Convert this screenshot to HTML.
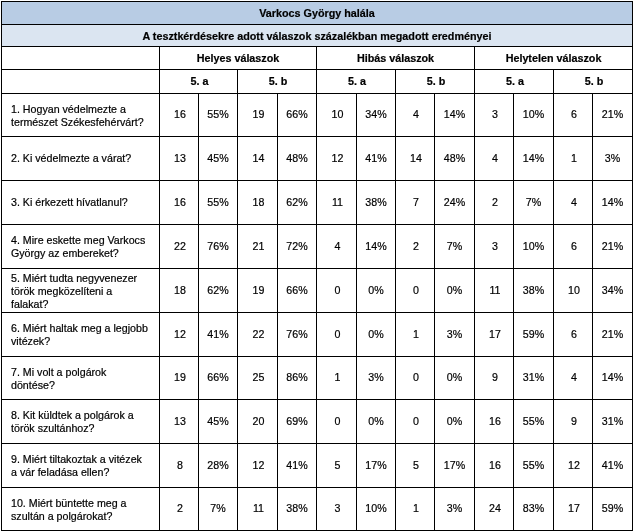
<!DOCTYPE html>
<html lang="hu"><head><meta charset="utf-8"><title>Varkocs György halála</title>
<style>
html,body{margin:0;padding:0;background:#fff;}
body{width:634px;height:532px;position:relative;overflow:hidden;font-family:"Liberation Sans",sans-serif;color:#000;}
.h,.v,.bg,.t{position:absolute;}
.h{height:1px;background:#000;}
.v{width:1px;background:#000;}
.t{font-size:10.67px;line-height:13px;white-space:nowrap;will-change:transform;-webkit-text-stroke:0.2px #000;}
.c{text-align:center;}
.b{font-weight:bold;font-size:10.78px;}
</style></head><body>
<div class="bg" style="left:1px;top:1px;width:632px;height:23px;background:#b8cce4"></div>
<div class="bg" style="left:1px;top:24px;width:632px;height:22px;background:#dbe5f1"></div>
<div class="h" style="left:1px;top:1px;width:632px"></div>
<div class="h" style="left:1px;top:24px;width:632px"></div>
<div class="h" style="left:1px;top:46px;width:632px"></div>
<div class="h" style="left:1px;top:69px;width:632px"></div>
<div class="h" style="left:1px;top:93px;width:632px"></div>
<div class="h" style="left:1px;top:136px;width:632px"></div>
<div class="h" style="left:1px;top:180px;width:632px"></div>
<div class="h" style="left:1px;top:224px;width:632px"></div>
<div class="h" style="left:1px;top:268px;width:632px"></div>
<div class="h" style="left:1px;top:312px;width:632px"></div>
<div class="h" style="left:1px;top:356px;width:632px"></div>
<div class="h" style="left:1px;top:399px;width:632px"></div>
<div class="h" style="left:1px;top:443px;width:632px"></div>
<div class="h" style="left:1px;top:487px;width:632px"></div>
<div class="h" style="left:1px;top:530px;width:632px"></div>
<div class="v" style="left:1px;top:1px;height:530px"></div>
<div class="v" style="left:159px;top:46px;height:485px"></div>
<div class="v" style="left:198px;top:93px;height:438px"></div>
<div class="v" style="left:237px;top:69px;height:462px"></div>
<div class="v" style="left:277px;top:93px;height:438px"></div>
<div class="v" style="left:316px;top:46px;height:485px"></div>
<div class="v" style="left:356px;top:93px;height:438px"></div>
<div class="v" style="left:395px;top:69px;height:462px"></div>
<div class="v" style="left:434px;top:93px;height:438px"></div>
<div class="v" style="left:474px;top:46px;height:485px"></div>
<div class="v" style="left:513px;top:93px;height:438px"></div>
<div class="v" style="left:553px;top:69px;height:462px"></div>
<div class="v" style="left:592px;top:93px;height:438px"></div>
<div class="v" style="left:632px;top:1px;height:530px"></div>
<div class="t c b" style="left:2px;top:6.5px;width:630px">Varkocs György halála</div>
<div class="t c b" style="left:2px;top:29.7px;width:630px">A tesztkérdésekre adott válaszok százalékban megadott eredményei</div>
<div class="t c b" style="left:160.4px;top:51.5px;width:156px">Helyes válaszok</div>
<div class="t c b" style="left:160.7px;top:75.0px;width:77px">5. a</div>
<div class="t c b" style="left:238.7px;top:75.0px;width:78px">5. b</div>
<div class="t c b" style="left:317.4px;top:51.5px;width:157px">Hibás válaszok</div>
<div class="t c b" style="left:317.7px;top:75.0px;width:78px">5. a</div>
<div class="t c b" style="left:396.7px;top:75.0px;width:78px">5. b</div>
<div class="t c b" style="left:475.4px;top:51.5px;width:157px">Helytelen válaszok</div>
<div class="t c b" style="left:475.7px;top:75.0px;width:78px">5. a</div>
<div class="t c b" style="left:554.7px;top:75.0px;width:78px">5. b</div>
<div class="t" style="left:11.0px;top:102.6px">1. Hogyan védelmezte a<br>természet Székesfehérvárt?</div>
<div class="t c" style="left:160.6px;top:108.3px;width:38px">16</div>
<div class="t c" style="left:199.1px;top:108.3px;width:38px">55%</div>
<div class="t c" style="left:238.6px;top:108.3px;width:39px">19</div>
<div class="t c" style="left:278.1px;top:108.3px;width:38px">66%</div>
<div class="t c" style="left:317.6px;top:108.3px;width:39px">10</div>
<div class="t c" style="left:357.1px;top:108.3px;width:38px">34%</div>
<div class="t c" style="left:396.6px;top:108.3px;width:38px">4</div>
<div class="t c" style="left:435.1px;top:108.3px;width:39px">14%</div>
<div class="t c" style="left:475.6px;top:108.3px;width:38px">3</div>
<div class="t c" style="left:514.1px;top:108.3px;width:39px">10%</div>
<div class="t c" style="left:554.6px;top:108.3px;width:38px">6</div>
<div class="t c" style="left:593.1px;top:108.3px;width:39px">21%</div>
<div class="t" style="left:11.0px;top:151.9px">2. Ki védelmezte a várat?</div>
<div class="t c" style="left:160.6px;top:151.8px;width:38px">13</div>
<div class="t c" style="left:199.1px;top:151.8px;width:38px">45%</div>
<div class="t c" style="left:238.6px;top:151.8px;width:39px">14</div>
<div class="t c" style="left:278.1px;top:151.8px;width:38px">48%</div>
<div class="t c" style="left:317.6px;top:151.8px;width:39px">12</div>
<div class="t c" style="left:357.1px;top:151.8px;width:38px">41%</div>
<div class="t c" style="left:396.6px;top:151.8px;width:38px">14</div>
<div class="t c" style="left:435.1px;top:151.8px;width:39px">48%</div>
<div class="t c" style="left:475.6px;top:151.8px;width:38px">4</div>
<div class="t c" style="left:514.1px;top:151.8px;width:39px">14%</div>
<div class="t c" style="left:554.6px;top:151.8px;width:38px">1</div>
<div class="t c" style="left:593.1px;top:151.8px;width:39px">3%</div>
<div class="t" style="left:11.0px;top:195.9px">3. Ki érkezett hívatlanul?</div>
<div class="t c" style="left:160.6px;top:195.8px;width:38px">16</div>
<div class="t c" style="left:199.1px;top:195.8px;width:38px">55%</div>
<div class="t c" style="left:238.6px;top:195.8px;width:39px">18</div>
<div class="t c" style="left:278.1px;top:195.8px;width:38px">62%</div>
<div class="t c" style="left:317.6px;top:195.8px;width:39px">11</div>
<div class="t c" style="left:357.1px;top:195.8px;width:38px">38%</div>
<div class="t c" style="left:396.6px;top:195.8px;width:38px">7</div>
<div class="t c" style="left:435.1px;top:195.8px;width:39px">24%</div>
<div class="t c" style="left:475.6px;top:195.8px;width:38px">2</div>
<div class="t c" style="left:514.1px;top:195.8px;width:39px">7%</div>
<div class="t c" style="left:554.6px;top:195.8px;width:38px">4</div>
<div class="t c" style="left:593.1px;top:195.8px;width:39px">14%</div>
<div class="t" style="left:11.0px;top:234.1px">4. Mire eskette meg Varkocs<br>György az embereket?</div>
<div class="t c" style="left:160.6px;top:239.8px;width:38px">22</div>
<div class="t c" style="left:199.1px;top:239.8px;width:38px">76%</div>
<div class="t c" style="left:238.6px;top:239.8px;width:39px">21</div>
<div class="t c" style="left:278.1px;top:239.8px;width:38px">72%</div>
<div class="t c" style="left:317.6px;top:239.8px;width:39px">4</div>
<div class="t c" style="left:357.1px;top:239.8px;width:38px">14%</div>
<div class="t c" style="left:396.6px;top:239.8px;width:38px">2</div>
<div class="t c" style="left:435.1px;top:239.8px;width:39px">7%</div>
<div class="t c" style="left:475.6px;top:239.8px;width:38px">3</div>
<div class="t c" style="left:514.1px;top:239.8px;width:39px">10%</div>
<div class="t c" style="left:554.6px;top:239.8px;width:38px">6</div>
<div class="t c" style="left:593.1px;top:239.8px;width:39px">21%</div>
<div class="t" style="left:11.0px;top:271.6px">5. Miért tudta negyvenezer<br>török megközelíteni a<br>falakat?</div>
<div class="t c" style="left:160.6px;top:283.8px;width:38px">18</div>
<div class="t c" style="left:199.1px;top:283.8px;width:38px">62%</div>
<div class="t c" style="left:238.6px;top:283.8px;width:39px">19</div>
<div class="t c" style="left:278.1px;top:283.8px;width:38px">66%</div>
<div class="t c" style="left:317.6px;top:283.8px;width:39px">0</div>
<div class="t c" style="left:357.1px;top:283.8px;width:38px">0%</div>
<div class="t c" style="left:396.6px;top:283.8px;width:38px">0</div>
<div class="t c" style="left:435.1px;top:283.8px;width:39px">0%</div>
<div class="t c" style="left:475.6px;top:283.8px;width:38px">11</div>
<div class="t c" style="left:514.1px;top:283.8px;width:39px">38%</div>
<div class="t c" style="left:554.6px;top:283.8px;width:38px">10</div>
<div class="t c" style="left:593.1px;top:283.8px;width:39px">34%</div>
<div class="t" style="left:11.0px;top:322.1px">6. Miért haltak meg a legjobb<br>vitézek?</div>
<div class="t c" style="left:160.6px;top:327.8px;width:38px">12</div>
<div class="t c" style="left:199.1px;top:327.8px;width:38px">41%</div>
<div class="t c" style="left:238.6px;top:327.8px;width:39px">22</div>
<div class="t c" style="left:278.1px;top:327.8px;width:38px">76%</div>
<div class="t c" style="left:317.6px;top:327.8px;width:39px">0</div>
<div class="t c" style="left:357.1px;top:327.8px;width:38px">0%</div>
<div class="t c" style="left:396.6px;top:327.8px;width:38px">1</div>
<div class="t c" style="left:435.1px;top:327.8px;width:39px">3%</div>
<div class="t c" style="left:475.6px;top:327.8px;width:38px">17</div>
<div class="t c" style="left:514.1px;top:327.8px;width:39px">59%</div>
<div class="t c" style="left:554.6px;top:327.8px;width:38px">6</div>
<div class="t c" style="left:593.1px;top:327.8px;width:39px">21%</div>
<div class="t" style="left:11.0px;top:365.6px">7. Mi volt a polgárok<br>döntése?</div>
<div class="t c" style="left:160.6px;top:371.3px;width:38px">19</div>
<div class="t c" style="left:199.1px;top:371.3px;width:38px">66%</div>
<div class="t c" style="left:238.6px;top:371.3px;width:39px">25</div>
<div class="t c" style="left:278.1px;top:371.3px;width:38px">86%</div>
<div class="t c" style="left:317.6px;top:371.3px;width:39px">1</div>
<div class="t c" style="left:357.1px;top:371.3px;width:38px">3%</div>
<div class="t c" style="left:396.6px;top:371.3px;width:38px">0</div>
<div class="t c" style="left:435.1px;top:371.3px;width:39px">0%</div>
<div class="t c" style="left:475.6px;top:371.3px;width:38px">9</div>
<div class="t c" style="left:514.1px;top:371.3px;width:39px">31%</div>
<div class="t c" style="left:554.6px;top:371.3px;width:38px">4</div>
<div class="t c" style="left:593.1px;top:371.3px;width:39px">14%</div>
<div class="t" style="left:11.0px;top:409.1px">8. Kit küldtek a polgárok a<br>török szultánhoz?</div>
<div class="t c" style="left:160.6px;top:414.8px;width:38px">13</div>
<div class="t c" style="left:199.1px;top:414.8px;width:38px">45%</div>
<div class="t c" style="left:238.6px;top:414.8px;width:39px">20</div>
<div class="t c" style="left:278.1px;top:414.8px;width:38px">69%</div>
<div class="t c" style="left:317.6px;top:414.8px;width:39px">0</div>
<div class="t c" style="left:357.1px;top:414.8px;width:38px">0%</div>
<div class="t c" style="left:396.6px;top:414.8px;width:38px">0</div>
<div class="t c" style="left:435.1px;top:414.8px;width:39px">0%</div>
<div class="t c" style="left:475.6px;top:414.8px;width:38px">16</div>
<div class="t c" style="left:514.1px;top:414.8px;width:39px">55%</div>
<div class="t c" style="left:554.6px;top:414.8px;width:38px">9</div>
<div class="t c" style="left:593.1px;top:414.8px;width:39px">31%</div>
<div class="t" style="left:11.0px;top:453.1px">9. Miért tiltakoztak a vitézek<br>a vár feladása ellen?</div>
<div class="t c" style="left:160.6px;top:458.8px;width:38px">8</div>
<div class="t c" style="left:199.1px;top:458.8px;width:38px">28%</div>
<div class="t c" style="left:238.6px;top:458.8px;width:39px">12</div>
<div class="t c" style="left:278.1px;top:458.8px;width:38px">41%</div>
<div class="t c" style="left:317.6px;top:458.8px;width:39px">5</div>
<div class="t c" style="left:357.1px;top:458.8px;width:38px">17%</div>
<div class="t c" style="left:396.6px;top:458.8px;width:38px">5</div>
<div class="t c" style="left:435.1px;top:458.8px;width:39px">17%</div>
<div class="t c" style="left:475.6px;top:458.8px;width:38px">16</div>
<div class="t c" style="left:514.1px;top:458.8px;width:39px">55%</div>
<div class="t c" style="left:554.6px;top:458.8px;width:38px">12</div>
<div class="t c" style="left:593.1px;top:458.8px;width:39px">41%</div>
<div class="t" style="left:11.0px;top:496.6px">10. Miért büntette meg a<br>szultán a polgárokat?</div>
<div class="t c" style="left:160.6px;top:502.3px;width:38px">2</div>
<div class="t c" style="left:199.1px;top:502.3px;width:38px">7%</div>
<div class="t c" style="left:238.6px;top:502.3px;width:39px">11</div>
<div class="t c" style="left:278.1px;top:502.3px;width:38px">38%</div>
<div class="t c" style="left:317.6px;top:502.3px;width:39px">3</div>
<div class="t c" style="left:357.1px;top:502.3px;width:38px">10%</div>
<div class="t c" style="left:396.6px;top:502.3px;width:38px">1</div>
<div class="t c" style="left:435.1px;top:502.3px;width:39px">3%</div>
<div class="t c" style="left:475.6px;top:502.3px;width:38px">24</div>
<div class="t c" style="left:514.1px;top:502.3px;width:39px">83%</div>
<div class="t c" style="left:554.6px;top:502.3px;width:38px">17</div>
<div class="t c" style="left:593.1px;top:502.3px;width:39px">59%</div>
</body></html>
